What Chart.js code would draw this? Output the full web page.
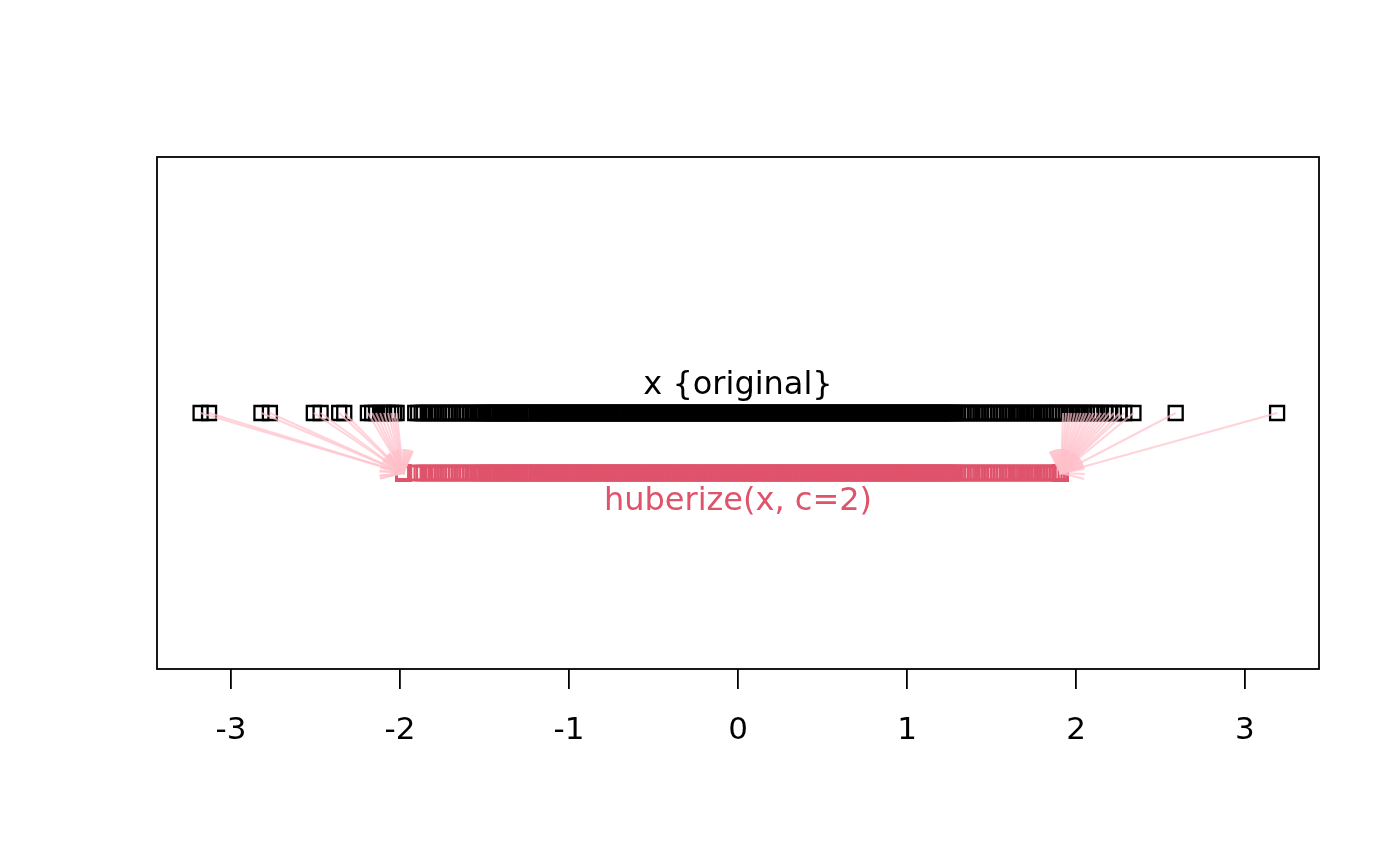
<!DOCTYPE html>
<html>
<head>
<meta charset="utf-8">
<script src="https://cdn.jsdelivr.net/npm/chart.js"></script>
<style>
    body { margin: 0; background: #ffffff; }
    canvas { display: block; }
</style>
</head>
<body>
<canvas id="chartHuber" width="1400" height="866"></canvas>
<script>
// valores de x (cauda esquerda, miolo denso, cauda direita)
var caudaEsquerda = [-3.18, -3.13, -2.82, -2.77, -2.51, -2.47, -2.36, -2.33, -2.19, -2.165, -2.142, -2.118, -2.094, -2.071, -2.052, -2.035, -2.02];

var faixaEsquerda = [-1.91, -1.893, -1.872, -1.858, -1.836, -1.821, -1.803, -1.784, -1.768, -1.751, -1.733, -1.716, -1.702, -1.687, -1.668, -1.652, -1.637, -1.619, -1.604, -1.588, -1.571, -1.556, -1.542];

var miolo = [
    -1.527, -1.514, -1.508, -1.493, -1.481, -1.472, -1.466, -1.452, -1.441, -1.437,
    -1.423, -1.411, -1.402, -1.394, -1.381, -1.373, -1.362, -1.350, -1.344, -1.331,
    -1.322, -1.315, -1.303, -1.291, -1.287, -1.274, -1.262, -1.255, -1.243, -1.236,
    -1.224, -1.213, -1.206, -1.192, -1.184, -1.177, -1.163, -1.151, -1.146, -1.134,
    -1.125, -1.118, -1.104, -1.097, -1.085, -1.073, -1.066, -1.058, -1.044, -1.037,
    -1.026, -1.015, -1.008, -0.994, -0.987, -0.976, -0.964, -0.958, -0.945, -0.936,
    -0.927, -0.916, -0.907, -0.896, -0.888, -0.875, -0.867, -0.858, -0.846, -0.838,
    -0.826, -0.817, -0.808, -0.797, -0.786, -0.778, -0.765, -0.757, -0.748, -0.736,
    -0.727, -0.718, -0.706, -0.698, -0.687, -0.676, -0.668, -0.655, -0.647, -0.638,
    -0.626, -0.617, -0.606, -0.598, -0.587, -0.576, -0.568, -0.557, -0.545, -0.536,
    -0.527, -0.516, -0.507, -0.495, -0.486, -0.477, -0.466, -0.458, -0.446, -0.437,
    -0.426, -0.415, -0.408, -0.396, -0.385, -0.377, -0.366, -0.355, -0.347, -0.336,
    -0.327, -0.314, -0.306, -0.297, -0.285, -0.276, -0.265, -0.257, -0.246, -0.235,
    -0.226, -0.217, -0.205, -0.197, -0.186, -0.175, -0.166, -0.156, -0.145, -0.137,
    -0.126, -0.115, -0.106, -0.096, -0.085, -0.076, -0.066, -0.055, -0.046, -0.036,
    -0.025, -0.016, -0.006, 0.005, 0.014, 0.025, 0.034, 0.046, 0.055, 0.064,
    0.075, 0.086, 0.094, 0.105, 0.116, 0.124, 0.135, 0.146, 0.155, 0.164,
    0.176, 0.185, 0.196, 0.204, 0.215, 0.226, 0.235, 0.244, 0.256, 0.265,
    0.274, 0.286, 0.295, 0.304, 0.316, 0.325, 0.336, 0.345, 0.354, 0.366,
    0.375, 0.386, 0.395, 0.404, 0.416, 0.425, 0.436, 0.444, 0.455, 0.466,
    0.475, 0.486, 0.494, 0.505, 0.516, 0.525, 0.534, 0.546, 0.555, 0.566,
    0.574, 0.585, 0.596, 0.605, 0.614, 0.626, 0.635, 0.646, 0.654, 0.665,
    0.676, 0.685, 0.694, 0.706, 0.715, 0.726, 0.735, 0.744, 0.756, 0.765,
    0.776, 0.785, 0.794, 0.806, 0.815, 0.826, 0.834, 0.845, 0.856, 0.865,
    0.874, 0.886, 0.895, 0.906, 0.914, 0.925, 0.936, 0.945, 0.954, 0.966,
    0.975, 0.986, 0.994, 1.005, 1.016, 1.025, 1.034, 1.046, 1.055, 1.066,
    1.074, 1.085, 1.096, 1.105, 1.114, 1.126, 1.135, 1.146, 1.154, 1.165,
    1.176, 1.185, 1.196, 1.204, 1.215, 1.226, 1.235, 1.246, 1.257, 1.266,
    1.274, 1.288
];

var faixaDireita = [1.301, 1.318, 1.334, 1.352, 1.367, 1.385, 1.404, 1.418, 1.436, 1.455, 1.471, 1.489, 1.507, 1.522, 1.541, 1.559, 1.574, 1.592, 1.611, 1.627, 1.645, 1.664, 1.679, 1.697, 1.716, 1.733, 1.751, 1.768, 1.785, 1.804, 1.822, 1.838, 1.856, 1.873, 1.889, 1.902];

var caudaDireita = [1.924, 1.941, 1.958, 1.973, 1.992, 2.011, 2.028, 2.047, 2.063, 2.085, 2.104, 2.126, 2.148, 2.171, 2.196, 2.224, 2.258, 2.286, 2.34, 2.59, 3.19];

// limites do huberize (c=2)
var limiteInferior = -1.98;
var limiteSuperior = 1.91;

var ticksX = [-3, -2, -1, 0, 1, 2, 3];
var rotulos = ['x {original}', 'huberize(x, c=2)'];
var rotulosY = [1.45, -0.483];
var yOriginal = 1;
var yHuber = 0;

var valoresX = caudaEsquerda.concat(faixaEsquerda, miolo, faixaDireita, caudaDireita);
var valoresHuber = valoresX.map(v => Math.min(Math.max(v, limiteInferior), limiteSuperior));

var corSeta = 'rgba(255, 192, 203, 0.7)';
var corHuber = '#DF536B';

var datasets = [];

// setas: so para os pontos que foram cortados
for (let i = 0; i < valoresX.length; i++) {
    if (valoresX[i] !== valoresHuber[i]) {
        datasets.push({
            type: 'line',
            data: [{ x: valoresX[i], y: yOriginal }, { x: valoresHuber[i], y: yHuber }],
            borderColor: corSeta,
            borderWidth: 2,
            pointRadius: 0,
            fill: false,
            seta: true
        });
    }
}

datasets.push({
    label: 'huberize',
    data: valoresHuber.map(v => ({ x: v, y: yHuber })),
    pointStyle: 'rect',
    pointRadius: 9.9,
    borderWidth: 2.3,
    borderColor: corHuber,
    backgroundColor: 'rgba(0,0,0,0)'
});

datasets.push({
    label: 'original',
    data: valoresX.map(v => ({ x: v, y: yOriginal })),
    pointStyle: 'rect',
    pointRadius: 9.9,
    borderWidth: 2.3,
    borderColor: '#000000',
    backgroundColor: 'rgba(0,0,0,0)'
});

var pluginMoldura = {
    id: 'moldura',
    afterDatasetsDraw(chart) {
        var ctx = chart.ctx;
        var area = chart.chartArea;
        var sx = chart.scales.x;
        var sy = chart.scales.y;

        // pontas das setas
        ctx.save();
        ctx.strokeStyle = corSeta;
        ctx.lineWidth = 2;
        chart.data.datasets.forEach(ds => {
            if (!ds.seta) return;
            var x0 = sx.getPixelForValue(ds.data[0].x), y0 = sy.getPixelForValue(ds.data[0].y);
            var x1 = sx.getPixelForValue(ds.data[1].x), y1 = sy.getPixelForValue(ds.data[1].y);
            var ang = Math.atan2(y1 - y0, x1 - x0);
            var tam = 24;
            ctx.beginPath();
            ctx.moveTo(x1 - tam * Math.cos(ang - Math.PI / 6), y1 - tam * Math.sin(ang - Math.PI / 6));
            ctx.lineTo(x1, y1);
            ctx.lineTo(x1 - tam * Math.cos(ang + Math.PI / 6), y1 - tam * Math.sin(ang + Math.PI / 6));
            ctx.stroke();
        });
        ctx.restore();

        // caixa
        ctx.save();
        ctx.strokeStyle = '#000000';
        ctx.lineWidth = 1.8;
        ctx.strokeRect(area.left, area.top, area.right - area.left, area.bottom - area.top);

        // textos
        ctx.font = '32px "DejaVu Sans"';
        ctx.textAlign = 'center';
        ctx.textBaseline = 'middle';
        ctx.fillStyle = '#000000';
        ctx.fillText(rotulos[0], sx.getPixelForValue(0), sy.getPixelForValue(rotulosY[0]));
        ctx.fillStyle = corHuber;
        ctx.fillText(rotulos[1], sx.getPixelForValue(0), sy.getPixelForValue(rotulosY[1]));
        ctx.restore();
    }
};

var grafico = new Chart(document.getElementById('chartHuber'), {
    type: 'scatter',
    data: { datasets: datasets },
    options: {
        responsive: false,
        animation: false,
        events: [],
        layout: {
            padding: { left: 157, right: 81, top: 157, bottom: 0 }
        },
        plugins: {
            legend: { display: false },
            tooltip: { enabled: false }
        },
        scales: {
            x: {
                type: 'linear',
                min: -3.438,
                max: 3.438,
                afterBuildTicks: scale => {
                    scale.ticks = ticksX.map(v => ({ value: v }));
                },
                afterFit: scale => {
                    scale.height = 197;
                },
                border: { display: false },
                grid: {
                    drawOnChartArea: false,
                    drawTicks: true,
                    tickLength: 20,
                    color: '#000000',
                    lineWidth: 1.8
                },
                ticks: {
                    color: '#000000',
                    font: { family: 'DejaVu Sans', size: 31 },
                    padding: 23,
                    maxRotation: 0,
                    autoSkip: false,
                    callback: v => String(v)
                }
            },
            y: {
                display: false,
                min: -3.2667,
                max: 5.2667
            }
        }
    },
    plugins: [pluginMoldura]
});
</script>
</body>
</html>
